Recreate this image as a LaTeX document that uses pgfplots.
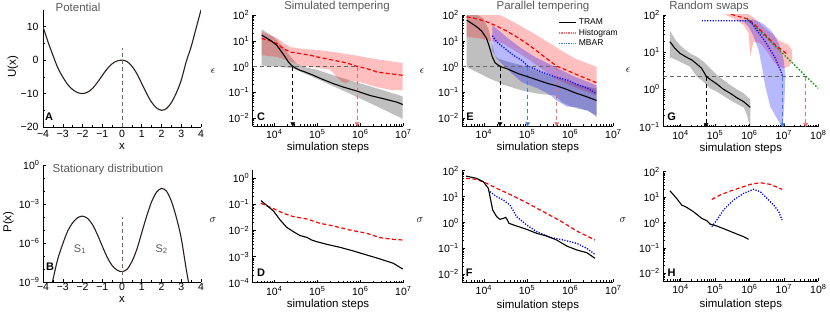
\documentclass[border=0pt]{standalone}
\usepackage{fontspec}
\setmainfont{Liberation Sans}
\usepackage{pgfplots}
\pgfplotsset{compat=1.18}
\usetikzlibrary{arrows.meta}
\definecolor{curveA}{RGB}{45,30,30}
\definecolor{titlegray}{RGB}{90,90,90}
\definecolor{dgray}{RGB}{105,105,105}
\definecolor{salmon}{RGB}{240,110,110}
\definecolor{arrblue}{RGB}{60,130,220}
\definecolor{mgreen}{RGB}{0,150,0}
\newcommand\supnum[1]{\pgfmathtruncatemacro\myexp{#1}\ifnum\myexp<0 −\number\numexpr-\myexp\relax\else\myexp\fi}
\pgfplotsset{
  log number format basis/.code 2 args={10\textsuperscript{\supnum{#2}}},
  base/.style={anchor=south west, scale only axis, axis x line*=bottom, axis y line*=left,
    tick align=inside, major tick length=3pt, minor tick length=1.6pt,
    every tick/.append style={black, line width=0.5pt},
    axis line style={line width=0.6pt},
    tick label style={font=\fontsize{10.5}{12}\selectfont},
    /pgf/number format/assume math mode=true,
    every axis x label/.style={at={(axis description cs:0.5,0)}, anchor=center, font=\fontsize{11.5}{13}\selectfont},
  },
  logax/.style={base, log basis x=10, log basis y=10},
  gband/.style={draw=none, fill=black, fill opacity=0.25, forget plot},
  pband/.style={draw=none, fill=red, fill opacity=0.25, forget plot},
  bband/.style={draw=none, fill=blue, fill opacity=0.28, forget plot},
  tram/.style={black, line width=1.1pt, forget plot},
  hist/.style={red, line width=1.2pt, dash pattern=on 4pt off 2.5pt, forget plot},
  mbar/.style={blue, line width=1.3pt, dash pattern=on 1.2pt off 1.5pt, forget plot},
  grn/.style={mgreen, line width=1.3pt, dash pattern=on 1.5pt off 1.8pt, forget plot},
  guide/.style={dgray, line width=0.6pt, dash pattern=on 4pt off 3pt, forget plot},
  arr/.style={#1, line width=0.8pt, dash pattern=on 4pt off 3pt, forget plot},
  tip/.style={only marks, mark=triangle*, mark size=2.3pt, mark options={rotate=180, #1, solid}, forget plot},
}
\begin{document}
\begin{tikzpicture}
\useasboundingbox (0,0) rectangle (830pt,313pt);
% ---------- A ----------
\begin{axis}[base, at={(43pt,186pt)}, width=158pt, height=117pt,
  xmin=-4, xmax=4, ymin=-20, ymax=15,
  xtick={-4,-3,-2,-1,0,1,2,3,4}, xticklabels={−4,−3,−2,−1,0,1,2,3,4},
  ytick={-20,-10,0,10}, yticklabels={−20,−10,0,10},
  yticklabel style={xshift=-1pt},
  minor x tick num=1, minor y tick num=1,
  xlabel={x}, xlabel style={yshift=-19pt}]
\addplot[curveA, line width=1.1pt, smooth] coordinates {
(-4,10) (-3.75,5.5) (-3.5,1.5) (-3.25,-2.3) (-3,-5) (-2.75,-7.3) (-2.5,-8.8) (-2.25,-9.7) (-2,-10)
(-1.75,-9.6) (-1.5,-8.5) (-1.25,-6.7) (-1,-4.6) (-0.75,-2.6) (-0.5,-1.1) (-0.25,-0.25) (0,0)
(0.25,-0.4) (0.5,-1.8) (0.75,-4) (1,-7) (1.25,-10) (1.5,-12.6) (1.75,-14.3) (2,-15) (2.25,-14.5)
(2.5,-12.7) (2.75,-9.8) (3,-6) (3.25,-0.5) (3.5,4) (3.75,9.5) (4,15)};
\addplot[guide] coordinates {(0,-20) (0,3.5)};
\end{axis}
% ---------- B ----------
\begin{axis}[base, at={(43pt,31pt)}, width=158pt, height=117pt, ymode=log,
  xmin=-4, xmax=4, ymin=1e-9, ymax=1,
  xtick={-4,-3,-2,-1,0,1,2,3,4}, xticklabels={−4,−3,−2,−1,0,1,2,3,4},
  xticklabel style={yshift=2pt},
  ytick={1e-9,1e-6,1e-3,1},
  yticklabels={10\textsuperscript{−9},10\textsuperscript{−6},10\textsuperscript{−3},10\textsuperscript{0}},
  minor ytick={1e-8,1e-7,1e-5,1e-4,1e-2,1e-1},
  minor x tick num=1,
  xlabel={x}, xlabel style={yshift=-17pt}]
\addplot[curveA, line width=1.1pt, smooth] coordinates {
(-3.75,2.8e-11) (-3.5,1.45e-9) (-3.25,6.0e-8) (-3,8.5e-7) (-2.75,8.3e-6) (-2.5,3.6e-5) (-2.25,8.7e-5)
(-2,1.17e-4) (-1.75,7.9e-5) (-1.5,2.7e-5) (-1.25,4.6e-6) (-1,5.8e-7) (-0.75,8.1e-8) (-0.5,1.86e-8)
(-0.25,8.2e-9) (0,6.3e-9) (0.25,9.3e-9) (0.5,3.7e-8) (0.75,3.2e-7) (1,6.2e-6) (1.25,1.17e-4)
(1.5,1.5e-3) (1.75,8.1e-3) (2,1.58e-2) (2.25,9.8e-3) (2.5,1.66e-3) (2.75,9.5e-5) (3,2.3e-6)
(3.25,1.0e-8) (3.375,8.9e-10) (3.5,1.2e-10)};
\addplot[guide] coordinates {(0,1e-9) (0,1e-4)};
\end{axis}
% ---------- C ----------
\begin{axis}[xmode=log, ymode=log, logax, at={(252.7pt,187pt)}, width=150.6pt, height=111pt,
  xmin=3162, xmax=1e7, ymin=0.005, ymax=100,
  xlabel={simulation steps}, xlabel style={yshift=-22pt}]
\addplot[gband] coordinates {(5.1e3,27.7) (9.6e3,14.3) (1.63e4,5.8) (2.33e4,2.53) (3.33e4,1.31) (5.7e4,0.91) (9.7e4,0.76) (2.38e5,0.46) (5.8e5,0.294) (1.42e6,0.187) (3.46e6,0.12) (9.7e6,0.07)
 (9.7e6,0.0094) (3.46e6,0.0218) (5.8e5,0.089) (9.7e4,0.34) (2.79e4,0.84) (1.14e4,1.03) (5.1e3,1.09)};
\addplot[pband] coordinates {(5.1e3,22.4) (1.14e4,13.1) (1.63e4,8.4) (2.33e4,5.8) (4.0e4,5.0) (6.8e4,4.6) (1.16e5,4.3) (2.38e5,3.7) (5.8e5,2.94) (1.42e6,2.24) (3.46e6,1.77) (9.7e6,1.39)
 (9.7e6,0.12) (4.9e6,0.127) (2.42e6,0.161) (9.9e5,0.253) (5.8e5,0.294) (4.85e5,0.231) (3.71e5,0.253) (2.84e5,0.40) (1.99e5,0.76) (9.7e4,0.91) (4.0e4,1.13) (1.95e4,1.77) (1.14e4,2.38) (5.1e3,2.77)};
\addplot[guide] coordinates {(3162,1) (8.5e5,1)};
\addplot[arr=black] coordinates {(2.7e4,1) (2.7e4,0.0065)};
\addplot[tip=black] coordinates {(2.7e4,0.0061)};
\addplot[arr=salmon] coordinates {(8.5e5,1) (8.5e5,0.0065)};
\addplot[tip=salmon] coordinates {(8.5e5,0.0061)};
\addplot[hist] coordinates {(5.1e3,12.3) (8.0e3,10.0) (1.14e4,7.9) (1.63e4,5.0) (2.33e4,3.7) (4.0e4,3.2) (6.8e4,2.77) (1.16e5,2.24) (2.38e5,1.77) (4.85e5,1.39) (8.5e5,1.02) (1.42e6,0.84) (2.42e6,0.62) (4.9e6,0.53) (9.7e6,0.46)};
\addplot[tram] coordinates {(5.1e3,16.6) (8.0e3,10.6) (1.14e4,6.8) (1.49e4,3.7) (1.79e4,2.38) (2.13e4,1.52) (2.55e4,1.1) (3.05e4,0.9) (3.99e4,0.72) (5.2e4,0.62) (8.1e4,0.46) (1.39e5,0.312) (2.38e5,0.218) (4.06e5,0.161) (8.3e5,0.113) (1.69e6,0.076) (3.46e6,0.057) (7.1e6,0.042) (9.7e6,0.034)};
\end{axis}
% ---------- D ----------
\begin{axis}[xmode=log, ymode=log, logax, at={(252.7pt,30.3pt)}, width=150.6pt, height=112.3pt,
  xmin=3162, xmax=1e7, ymin=1e-4, ymax=2,
  xlabel={simulation steps}, xlabel style={yshift=-22pt}]
\addplot[hist] coordinates {(4.9e3,0.110) (9.6e3,0.0687) (1.63e4,0.0455) (2.79e4,0.0339) (5.7e4,0.0276) (1.16e5,0.0188) (2.38e5,0.0149) (5.8e5,0.0104) (1.42e6,0.00778) (2.89e6,0.00531) (5.9e6,0.00458) (9.7e6,0.00432)};
\addplot[tram] coordinates {(4.9e3,0.139) (9.6e3,0.056) (1.37e4,0.0253) (1.95e4,0.0132) (2.79e4,0.009) (4.0e4,0.00634) (5.7e4,0.00547) (7.4e4,0.00432) (9.7e4,0.00373) (1.66e5,0.00295) (3.4e5,0.00226) (6.9e5,0.00164) (1.42e6,0.00115) (2.89e6,8.1e-4) (5.9e6,5.5e-4) (9.7e6,3.34e-4)};
\end{axis}
% ---------- E ----------
\begin{axis}[xmode=log, ymode=log, logax, at={(462.3pt,187pt)}, width=151pt, height=111pt,
  xmin=3162, xmax=1e7, ymin=0.005, ymax=100,
  xlabel={simulation steps}, xlabel style={yshift=-22pt},
  legend style={draw=none, fill=none, font=\fontsize{8.5}{9.5}\selectfont, at={(0.634,0.985)}, anchor=north west, inner sep=0pt, row sep=-1pt},
  legend cell align=left]
\addlegendimage{line legend, black, line width=1pt}\addlegendentry{TRAM}
\addlegendimage{line legend, color=salmon, line width=1.6pt, dash pattern=on 1.3pt off 1pt}\addlegendentry{Histogram}
\addlegendimage{line legend, color=arrblue, line width=1.6pt, dash pattern=on 1.3pt off 1pt}\addlegendentry{MBAR}
\addplot[gband] coordinates {(3.98e3,182) (6.2e3,116) (9.7e3,74) (1.27e4,30) (1.51e4,9.1) (1.81e4,2.75) (2.16e4,2.05) (3.68e4,1.52) (7.5e4,1.13) (1.53e5,0.72) (3.12e5,0.46) (6.4e5,0.34) (1.29e6,0.218) (4.1e6,0.139)
 (4.1e6,0.011) (2.64e6,0.020) (1.55e6,0.023) (9.1e5,0.031) (6.4e5,0.042) (4.45e5,0.076) (1.83e5,0.089) (7.5e4,0.12) (2.36e4,0.218) (2.16e4,0.253) (1.38e4,0.34) (6.8e3,0.62) (3.98e3,0.97)};
\addplot[pband] coordinates {(3.98e3,211) (1.16e4,182) (1.98e4,116) (4.03e4,63.8) (8.2e4,33) (1.67e5,16.6) (3.4e5,7.9) (6.95e5,3.7) (1.42e6,1.93) (4.1e6,0.97)
 (4.1e6,0.076) (2.02e6,0.12) (9.9e5,0.187) (4.86e5,0.34) (2.39e5,0.72) (1.17e5,1.77) (5.8e4,3.7) (2.82e4,7.9) (1.38e4,10) (6.8e3,13) (3.98e3,14)};
\addplot[bband] coordinates {(1.57e4,40.7) (2.16e4,26) (3.68e4,12.3) (7.5e4,5.0) (1.53e5,2.38) (3.12e5,1.31) (6.4e5,0.72) (1.29e6,0.40) (2.64e6,0.253) (4.1e6,0.187)
 (4.1e6,0.0127) (2.42e6,0.0199) (1.42e6,0.0269) (8.3e5,0.0285) (4.86e5,0.0488) (3.12e5,0.089) (1.83e5,0.139) (7.5e4,0.253) (4.03e4,0.62) (2.58e4,1.31) (1.98e4,2.05) (1.57e4,4.3)};
\addplot[guide] coordinates {(3162,1) (4.86e5,1)};
\addplot[arr=black] coordinates {(2.36e4,1) (2.36e4,0.0065)};
\addplot[tip=black] coordinates {(2.36e4,0.0061)};
\addplot[arr=arrblue] coordinates {(1.03e5,1) (1.03e5,0.0065)};
\addplot[tip=arrblue] coordinates {(1.03e5,0.0061)};
\addplot[arr=salmon] coordinates {(4.86e5,1) (4.86e5,0.0065)};
\addplot[tip=salmon] coordinates {(4.86e5,0.0061)};
\addplot[hist] coordinates {(3.98e3,85) (6.2e3,74) (1.06e4,58) (1.81e4,40) (3.08e4,26) (5.3e4,15.5) (8.97e4,8.8) (1.53e5,4.6) (2.61e5,2.3) (4.86e5,1.05) (9.1e5,0.68) (1.55e6,0.46) (2.64e6,0.32) (4.1e6,0.238)};
\addplot[mbar] coordinates {(1.57e4,15.7) (1.98e4,9.1) (3.08e4,5.0) (4.8e4,2.77) (7.5e4,1.77) (1.03e5,1.06) (2.18e5,0.62) (4.45e5,0.40) (9.1e5,0.294) (1.29e6,0.218) (2.64e6,0.139) (4.1e6,0.089)};
\addplot[tram] coordinates {(3.98e3,63.8) (5.2e3,47.3) (6.8e3,35.1) (8.9e3,23.8) (1.16e4,12.3) (1.38e4,5.0) (1.57e4,2.38) (1.81e4,1.43) (2.16e4,1.13) (2.58e4,0.97) (3.68e4,0.79) (6.3e4,0.53) (1.07e5,0.40) (1.83e5,0.294) (3.12e5,0.218) (4.45e5,0.187) (7.6e5,0.139) (1.29e6,0.097) (2.21e6,0.072) (4.1e6,0.0488)};
\end{axis}
% ---------- F ----------
\begin{axis}[xmode=log, ymode=log, logax, at={(462.3pt,30.9pt)}, width=151pt, height=111.4pt,
  xmin=3162, xmax=1e7, ymin=0.005, ymax=100,
  xlabel={simulation steps}, xlabel style={yshift=-23pt}]
\addplot[hist] coordinates {(3.85e3,50.6) (6.8e3,46.3) (1.16e4,32.5) (1.98e4,20.8) (4.03e4,12.2) (9.8e4,5.8) (2.39e5,2.62) (5.8e5,1.18) (1.42e6,0.47) (3.77e6,0.211)};
\addplot[mbar] coordinates {(1.38e4,15.5) (1.98e4,9.9) (2.82e4,7.4) (4.03e4,4.73) (5.75e4,1.68) (9.8e4,0.80) (1.67e5,0.443) (3.4e5,0.268) (6.95e5,0.211) (1.42e6,0.157) (2.42e6,0.101) (3.77e6,0.059)};
\addplot[tram] coordinates {(3.85e3,62) (6.8e3,50.6) (9.7e3,37.6) (1.27e4,20.8) (1.44e4,7.4) (1.6e4,3.03) (1.98e4,1.68) (2.36e4,1.32) (2.82e4,1.45) (3.2e4,1.58) (3.5e4,1.25) (3.82e4,0.93) (5.75e4,0.73) (9.8e4,0.545) (1.67e5,0.382) (2.85e5,0.301) (4.86e5,0.211) (8.3e5,0.124) (1.42e6,0.087) (2.42e6,0.0686) (3.77e6,0.0414)};
\end{axis}
% ---------- G ----------
\begin{axis}[xmode=log, ymode=log, logax, at={(663.3pt,186.3pt)}, width=155pt, height=111.7pt,
  xmin=3162, xmax=1e8, ymin=0.1, ymax=100,
  xlabel={simulation steps}, xlabel style={yshift=-22pt}]
\addplot[gband] coordinates {(4.9e3,37.9) (7.7e3,19.2) (1.21e4,12.7) (1.89e4,9.3) (2.96e4,7.6) (4.6e4,5.6) (7.2e4,3.7) (1.13e5,2.45) (1.77e5,1.8) (2.77e5,1.32) (4.3e5,1.01) (6.8e5,0.79) (1.06e6,0.54)
 (1.06e6,0.09) (8.5e5,0.206) (6.8e5,0.331) (4.3e5,0.41) (2.77e5,0.52) (1.77e5,0.67) (1.13e5,0.87) (7.2e4,1.07) (4.6e4,1.62) (2.96e4,2.21) (1.89e4,4.1) (1.21e4,5.0) (7.7e3,6.2) (4.9e3,7.3)};
\addplot[pband] coordinates {(1.58e5,136) (3.46e5,128) (8.5e5,111) (1.32e6,86.5) (2.07e6,57.3) (3.24e6,39.5) (5.1e6,29.0) (7.1e6,21.3) (9.9e6,18.1) (1.38e7,15.6) (1.73e7,11.5)
 (1.73e7,5.5) (1.38e7,4.1) (9.9e6,3.7) (7.1e6,4.1) (5.1e6,5.6) (3.24e6,10.4) (2.07e6,17.3) (1.32e6,19.2) (1.06e6,7.6) (9.5e5,32.2) (6.8e5,53.8) (3.46e5,81) (1.58e5,111)};
\addplot[bband] coordinates {(4.3e5,70.5) (1.32e6,76.5) (2.59e6,57.3) (4.52e6,35.7) (7.1e6,17.3) (9.9e6,6.2) (1.11e7,2.21) (1.04e7,0.52) (9.25e6,0.09)
 (6.3e6,0.168) (4.04e6,0.345) (2.89e6,1.19) (2.31e6,4.1) (1.85e6,11.5) (1.32e6,26.2) (9.5e5,48.6) (6.8e5,66.2)};
\addplot[guide] coordinates {(3162,2.2) (4.3e7,2.2)};
\addplot[arr=black] coordinates {(5.5e4,2.2) (5.5e4,0.118)};
\addplot[tip=black] coordinates {(5.5e4,0.1146)};
\addplot[arr=arrblue] coordinates {(9.25e6,2.2) (9.25e6,0.118)};
\addplot[tip=arrblue] coordinates {(9.25e6,0.1146)};
\addplot[arr=salmon] coordinates {(4.3e7,2.2) (4.3e7,0.118)};
\addplot[tip=salmon] coordinates {(4.3e7,0.1146)};
\addplot[hist] coordinates {(1.98e5,118) (3.46e5,100) (6.05e5,86.5) (9.5e5,76.5) (1.48e6,53.8) (2.31e6,35.7) (3.24e6,26.2) (4.52e6,19.2) (6.3e6,14.1) (8.9e6,11.5) (1.24e7,8.8)};
\addplot[grn] coordinates {(8.5e5,81) (1e8,1.07)};
\addplot[mbar] coordinates {(4.14e4,70.5) (9.5e5,70.5) (1.18e6,59.7) (1.48e6,43.8) (2.07e6,29.0) (2.89e6,19.2) (4.04e6,11.5) (5.65e6,6.9) (7.1e6,4.1) (8.3e6,3.0) (9.25e6,2.21)};
\addplot[tram] coordinates {(4.9e3,19.2) (6.9e3,12.7) (9.7e3,9.3) (1.51e4,7.3) (2.12e4,6.2) (2.96e4,4.83) (4.1e4,3.70) (5.5e4,2.3) (7.2e4,1.87) (1.13e5,1.40) (1.77e5,1.01) (2.77e5,0.79) (4.3e5,0.60) (6.8e5,0.47) (1.06e6,0.331)};
\end{axis}
% ---------- H ----------
\begin{axis}[xmode=log, ymode=log, logax, at={(663.3pt,32pt)}, width=155pt, height=109.3pt,
  xmin=3162, xmax=1e8, ymin=0.005, ymax=100,
  xlabel={simulation steps}, xlabel style={yshift=-24pt}]
\addplot[hist] coordinates {(8.1e4,8.1) (1.41e5,12.1) (2.77e5,17.3) (5.4e5,23.4) (1.06e6,31.7) (2.07e6,36.9) (4.04e6,31.7) (8.9e6,20.2)};
\addplot[mbar] coordinates {(8.1e4,0.685) (1.13e5,1.25) (1.77e5,3.1) (3.46e5,7.7) (6.8e5,14.1) (1.32e6,20.2) (2.07e6,16.3) (3.24e6,8.9) (5.06e6,4.89) (7.1e6,2.67) (8.9e6,1.25)};
\addplot[tram] coordinates {(4.9e3,17.9) (7.7e3,8.9) (1.08e4,4.89) (1.51e4,3.95) (2.37e4,2.67) (4.14e4,1.46) (5.8e4,1.18) (7.2e4,0.87) (1.13e5,0.73) (2.21e5,0.51) (4.3e5,0.353) (6.8e5,0.277) (9.5e5,0.218)};
\end{axis}
% ---------- texts ----------
\begin{scope}[every node/.style={font=\fontsize{11.5}{13}\selectfont, text=titlegray}]
\node at (78pt,306pt) {Potential};
\node at (108pt,143pt) {Stationary distribution};
\node at (337pt,306pt) {Simulated tempering};
\node at (543pt,306pt) {Parallel tempering};
\node at (709pt,306pt) {Random swaps};
\end{scope}
\begin{scope}[every node/.style={font=\bfseries\fontsize{11}{12}\selectfont}]
\node at (49pt,196pt) {A};
\node at (50pt,46pt) {B};
\node at (261pt,196pt) {C};
\node at (261pt,40.3pt) {D};
\node at (470pt,196pt) {E};
\node at (469.3pt,40.3pt) {F};
\node at (671.7pt,196.3pt) {G};
\node at (671.7pt,40.7pt) {H};
\end{scope}
\node[font=\fontsize{11}{12}\selectfont, text=titlegray] at (80pt,63.7pt) {S\textsubscript{1}};
\node[font=\fontsize{11}{12}\selectfont, text=titlegray] at (161.7pt,63.7pt) {S\textsubscript{2}};
\node[font=\fontsize{11.5}{13}\selectfont, rotate=90] at (13pt,246pt) {U(x)};
\node[font=\fontsize{11.5}{13}\selectfont, rotate=90] at (8.5pt,91pt) {P(x)};
\begin{scope}[every node/.style={font=\fontsize{11}{12}\selectfont}]
\node at (213pt,242pt) {$\epsilon$};
\node at (422pt,242pt) {$\epsilon$};
\node at (628pt,243pt) {$\epsilon$};
\node at (213pt,93pt) {$\sigma$};
\node at (420pt,93pt) {$\sigma$};
\node at (623pt,93pt) {$\sigma$};
\end{scope}
\end{tikzpicture}
\end{document}
